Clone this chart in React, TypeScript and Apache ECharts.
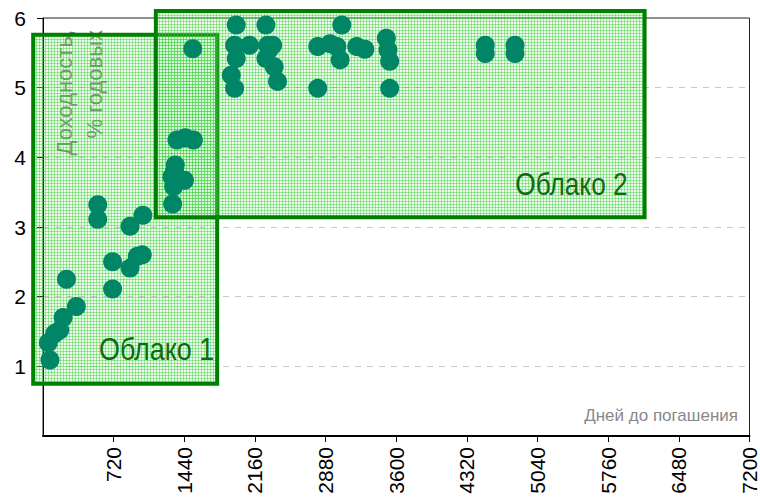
import React, { useEffect, useRef } from "react";
import * as echarts from "echarts";

const xTicks = [0, 720, 1440, 2160, 2880, 3600, 4320, 5040, 5760, 6480, 7200];
const yTicks = [0, 1, 2, 3, 4, 5, 6];

// [days to maturity, yield %]
const bondPoints: [number, number][] = [
  [71, 1.09], [54, 1.34], [120, 1.47], [171, 1.52], [205, 1.7], [340, 1.86], [239, 2.25],
  [558, 3.32], [558, 3.11], [709, 2.5], [709, 2.11], [887, 3.01], [1018, 3.17],
  [887, 2.41], [961, 2.58], [1012, 2.6],
  [1321, 3.33], [1331, 3.58], [1314, 3.72], [1442, 3.67], [1348, 3.89], [1340, 3.8],
  [1365, 4.25], [1449, 4.28], [1533, 4.25], [1526, 5.56],
  [1969, 5.9], [2272, 5.9], [1953, 5.61], [2104, 5.61], [2290, 5.61], [2340, 5.61],
  [1969, 5.42], [1919, 5.18], [1953, 4.99], [2272, 5.42], [2356, 5.3], [2390, 5.09], [2306, 5.55],
  [2800, 5.59], [2800, 4.99], [3045, 5.9], [2995, 5.59], [3028, 5.4], [2925, 5.63],
  [3197, 5.59], [3280, 5.55], [3499, 5.71], [3516, 5.54], [3533, 5.38], [3533, 4.99],
  [4507, 5.61], [4507, 5.49], [4810, 5.61], [4810, 5.49],
];

// cloud boxes in data units: [xMin, yMin, xMax, yMax]
const cloud1: [number, number, number, number] = [-100, 0.75, 1775, 5.76];
const cloud2: [number, number, number, number] = [1150, 3.14, 6131, 6.1];
const cloudLabels = ["Облако 1", "Облако 2"];
const yAxisName = ["Доходность,", "% годовых"];
const xAxisName = "Дней до погашения";

function makePattern(): HTMLCanvasElement {
  const c = document.createElement("canvas");
  c.width = 3;
  c.height = 3;
  const ctx = c.getContext("2d")!;
  ctx.fillStyle = "rgba(150,235,150,0.18)";
  ctx.fillRect(0, 0, 3, 3);
  ctx.fillStyle = "rgba(50,205,50,0.42)";
  ctx.fillRect(0, 0, 3, 1);
  ctx.fillRect(0, 0, 1, 3);
  return c;
}

export default function App() {
  const ref = useRef<HTMLDivElement>(null);
  useEffect(() => {
    if (!ref.current) return;
    const chart = echarts.init(ref.current, undefined, { renderer: "svg" });
    const font = "'Liberation Sans', Arial, sans-serif";
    chart.setOption({
      animation: false,
      backgroundColor: "#fff",
      grid: {
        left: 43,
        right: 3,
        top: 18,
        bottom: 67,
        show: true,
        borderColor: "#222",
        borderWidth: 1,
        backgroundColor: "transparent",
      },
      xAxis: {
        type: "value",
        min: xTicks[0],
        max: xTicks[xTicks.length - 1],
        interval: 720,
        axisLine: { show: true, onZero: false, lineStyle: { color: "#000", width: 2 } },
        axisTick: { show: true, length: 6, lineStyle: { color: "#000" } },
        axisLabel: {
          rotate: 90,
          margin: 11,
          showMinLabel: false,
          color: "#000",
          fontSize: 21,
          fontFamily: font,
          formatter: (v: number) => String(v),
        },
        splitLine: { show: false },
      },
      yAxis: {
        type: "value",
        min: yTicks[0],
        max: yTicks[yTicks.length - 1],
        interval: 1,
        axisLine: { show: true, onZero: false, lineStyle: { color: "#000", width: 1 } },
        axisTick: { show: true, length: 6, lineStyle: { color: "#000" } },
        axisLabel: {
          margin: 17,
          showMinLabel: false,
          color: "#000",
          fontSize: 21,
          fontFamily: font,
        },
        splitLine: {
          show: true,
          showMinLine: false,
          showMaxLine: false,
          lineStyle: { color: "#c8c8c8", type: [6, 6], width: 1 },
        },
      },
      series: [
        {
          type: "scatter",
          data: bondPoints,
          symbol: "circle",
          symbolSize: 19,
          itemStyle: { color: "#008566", opacity: 1 },
          z: 3,
        },
      ],
    });

    const pattern = makePattern();
    const toPx = (p: [number, number]) =>
      chart.convertToPixel({ gridIndex: 0 }, p) as number[];
    const boxRect = (b: [number, number, number, number], z: number) => {
      const a = toPx([b[0], b[3]]);
      const c = toPx([b[2], b[1]]);
      return {
        type: "rect",
        z,
        shape: { x: a[0], y: a[1], width: c[0] - a[0], height: c[1] - a[1] },
        style: {
          fill: { image: pattern, repeat: "repeat" },
          stroke: "#008000",
          lineWidth: 4,
        },
      };
    };
    const b1 = toPx([cloud1[2], cloud1[1]]);
    const b2 = toPx([cloud2[2], cloud2[1]]);
    const cloudFont = `32px 'Liberation Sans Narrow', 'Arial Narrow', ${font}`;

    chart.setOption({
      graphic: [
        {
          type: "text",
          z: 0,
          x: 64,
          y: 30,
          rotation: Math.PI / 2,
          style: {
            text: yAxisName[0],
            fill: "#7a7a7a",
            font: `22px ${font}`,
            align: "right",
            verticalAlign: "middle",
          },
        },
        {
          type: "text",
          z: 0,
          x: 94,
          y: 30,
          rotation: Math.PI / 2,
          style: {
            text: yAxisName[1],
            fill: "#7a7a7a",
            font: `22px ${font}`,
            align: "right",
            verticalAlign: "middle",
          },
        },
        boxRect(cloud1, 1),
        boxRect(cloud2, 1),
        {
          type: "text",
          z: 10,
          x: b1[0] - 3,
          y: b1[1] - 35,
          scaleX: 0.84,
          style: {
            text: cloudLabels[0],
            fill: "#0d6b12",
            font: cloudFont,
            align: "right",
            verticalAlign: "middle",
          },
        },
        {
          type: "text",
          z: 10,
          x: b2[0] - 17,
          y: b2[1] - 33,
          scaleX: 0.82,
          style: {
            text: cloudLabels[1],
            fill: "#0d6b12",
            font: cloudFont,
            align: "right",
            verticalAlign: "middle",
          },
        },
        {
          type: "text",
          z: 10,
          x: 738,
          y: 415,
          style: {
            text: xAxisName,
            fill: "#888",
            font: `17px ${font}`,
            align: "right",
            verticalAlign: "middle",
          },
        },
      ],
    });

    return () => chart.dispose();
  }, []);
  return <div ref={ref} style={{ width: 760, height: 503, position: "absolute", left: 0, top: 0 }} />;
}
